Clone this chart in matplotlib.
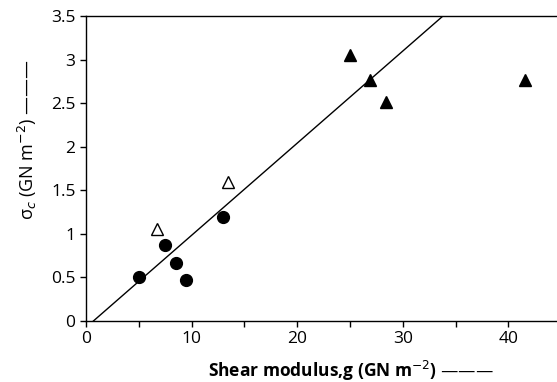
import matplotlib.pyplot as plt
import numpy as np

plt.rcParams['font.family'] = ['Open Sans', 'DejaVu Sans']

# filled circles
circ_g = [5.0, 7.5, 8.5, 9.5, 13.0]
circ_s = [0.50, 0.87, 0.67, 0.47, 1.19]
# open triangles
otri_g = [6.7, 13.4]
otri_s = [1.05, 1.60]
# filled triangles
ftri_g = [25.0, 26.9, 28.4, 41.6]
ftri_s = [3.05, 2.77, 2.51, 2.76]
# fitted line
line_g = [0.7, 33.8]
line_s = [0.0, 3.5]

fig = plt.figure(figsize=(5.57, 3.82), dpi=100)
ax = fig.add_axes([0.1544, 0.1597, 0.8456, 0.7984])

ax.plot(line_g, line_s, color='black', lw=1.0)
ax.plot(circ_g, circ_s, 'o', color='black', ms=8.5)
ax.plot(otri_g, otri_s, '^', mfc='white', mec='black', mew=1.0, ms=8.5)
ax.plot(ftri_g, ftri_s, '^', color='black', ms=8.5)

ax.set_xlim(0, 44.6)
ax.set_ylim(0, 3.5)
ax.set_xticks(np.arange(0, 45, 5))
ax.set_xticklabels(['0', '', '10', '', '20', '', '30', '', '40'])
ax.set_yticks(np.arange(0, 3.6, 0.5))
ax.set_yticklabels(['0', '0.5', '1', '1.5', '2', '2.5', '3', '3.5'])
ax.tick_params(direction='out', length=4, width=1, labelsize=12.5)
ax.spines['right'].set_visible(False)
for s in ['left', 'bottom', 'top']:
    ax.spines[s].set_linewidth(1.0)

fig.text(0.63, 0.03, 'Shear modulus,g (GN m$^{-2}$) ———', ha='center', va='center',
         fontsize=12.5, fontweight='bold')
fig.text(0.05, 0.635, 'σ$_c$ (GN m$^{-2}$) ———', ha='center', va='center',
         rotation=90, fontsize=13)

fig.savefig('out.png', dpi=100)
